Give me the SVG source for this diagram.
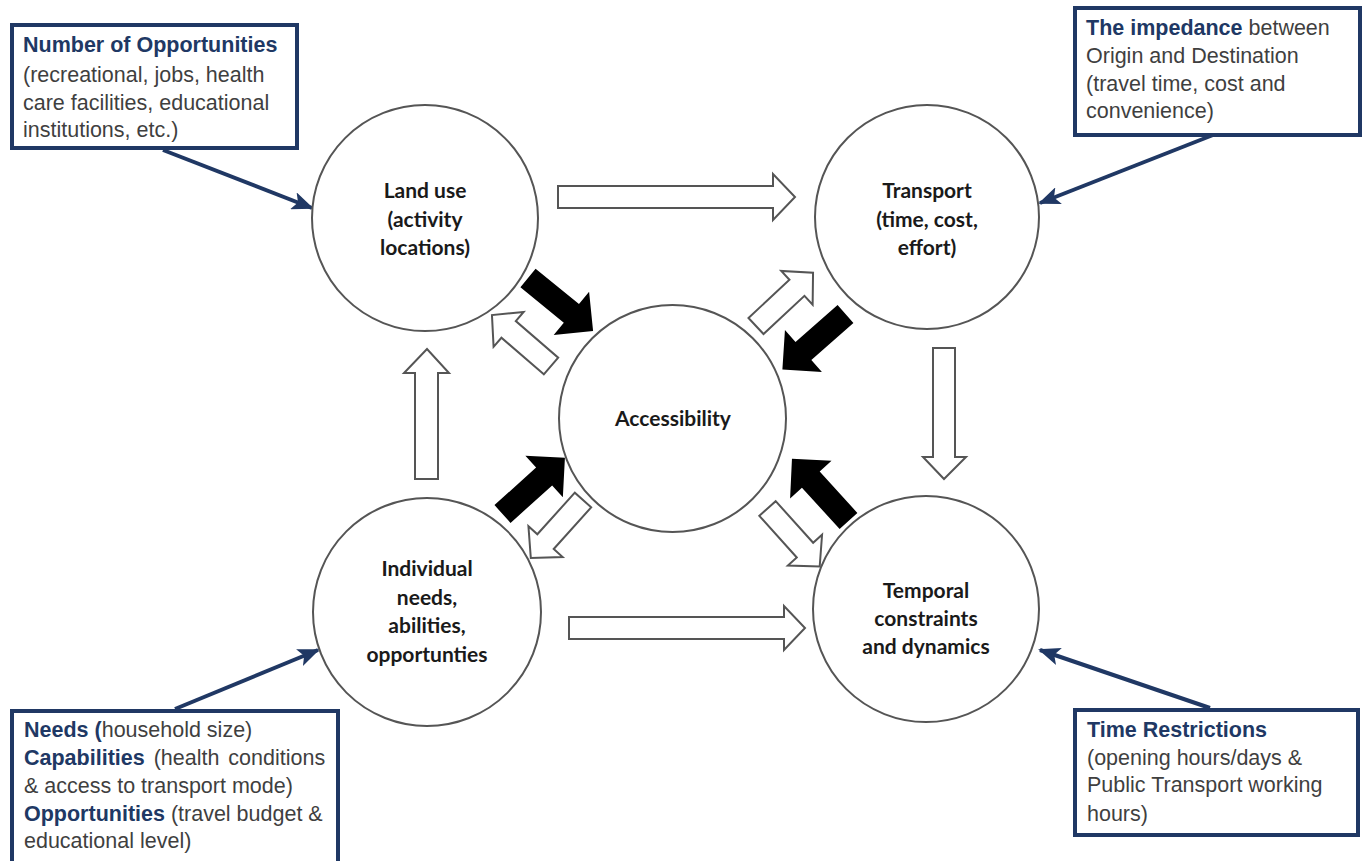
<svg xmlns="http://www.w3.org/2000/svg" width="1368" height="861" viewBox="0 0 1368 861">
  <style>
    .node { fill: #ffffff; stroke: #555555; stroke-width: 2; }
    .ntext { font-family: Lato, "Open Sans", sans-serif; font-weight: 700; font-size: 21px; fill: #1a1a1a; text-anchor: middle; }
    .hollow { fill: #ffffff; stroke: #555555; stroke-width: 2; stroke-linejoin: miter; }
    .solid { fill: #000000; stroke: none; }
    .box { fill: #ffffff; stroke: #203864; stroke-width: 4; }
    .ptr { stroke: #203864; stroke-width: 4; fill: none; }
    .btext { font-family: "Liberation Sans", Arial, sans-serif; font-size: 21.5px; fill: #3f3f3f; }
    .b { font-weight: 700; fill: #203864; }
  </style>
  <defs>
    <!-- diagonal arrows, tail at origin pointing along +x -->
    <polygon id="hollowDiag" points="0,-11 56,-11 56,-23 78,0 56,23 56,11 0,11"/>
    <polygon id="solidDiag" points="0,-12 56,-12 56,-28 84,0 56,28 56,12 0,12"/>
    <marker id="navyHead" markerUnits="userSpaceOnUse" markerWidth="22" markerHeight="18" refX="20" refY="9" orient="auto">
      <polygon points="0,0 22,9 0,18 5,9" fill="#203864"/>
    </marker>
  </defs>

  <rect width="1368" height="861" fill="#ffffff"/>

  <!-- connectors -->
  <g id="connectors">
    <!-- straight hollow arrows between outer nodes -->
    <polygon class="hollow" points="558,186 773,186 773,174 795,197 773,220 773,208 558,208"/>
    <polygon class="hollow" points="569,617 784,617 784,606 805,628 784,650 784,639 569,639"/>
    <polygon class="hollow" points="415,479 415,373 404,373 427,349 449,373 438,373 438,479"/>
    <polygon class="hollow" points="933,348 955,348 955,457 966,457 944,479 923,457 933,457"/>

    <!-- inward solid arrows to Accessibility -->
    <use href="#solidDiag" class="solid" transform="translate(528,278) rotate(39.2)"/>
    <use href="#solidDiag" class="solid" transform="translate(845.5,314) rotate(138.7)"/>
    <use href="#solidDiag" class="solid" transform="translate(502.5,514) rotate(-42)"/>
    <use href="#solidDiag" class="solid" transform="translate(848.5,521) rotate(227.7)"/>

    <!-- outward hollow arrows from Accessibility -->
    <use href="#hollowDiag" class="hollow" transform="translate(551,366) rotate(220.8)"/>
    <use href="#hollowDiag" class="hollow" transform="translate(756,326) rotate(-43)"/>
    <use href="#hollowDiag" class="hollow" transform="translate(583,500) rotate(132)"/>
    <use href="#hollowDiag" class="hollow" transform="translate(767.5,508.5) rotate(48)"/>

    <!-- callout pointers -->
    <line class="ptr" x1="163" y1="150" x2="312" y2="208" marker-end="url(#navyHead)"/>
    <line class="ptr" x1="1213" y1="135" x2="1040" y2="203" marker-end="url(#navyHead)"/>
    <line class="ptr" x1="175" y1="709" x2="318" y2="650" marker-end="url(#navyHead)"/>
    <line class="ptr" x1="1210" y1="708" x2="1040" y2="650" marker-end="url(#navyHead)"/>
  </g>

  <!-- circle nodes -->
  <g id="land-use">
    <circle class="node" cx="425" cy="218" r="113"/>
    <text class="ntext" x="425" y="198">Land use</text>
    <text class="ntext" x="425" y="227">(activity</text>
    <text class="ntext" x="425" y="255">locations)</text>
  </g>
  <g id="transport">
    <circle class="node" cx="927" cy="217" r="112"/>
    <text class="ntext" x="927" y="198">Transport</text>
    <text class="ntext" x="927" y="227">(time, cost,</text>
    <text class="ntext" x="927" y="255">effort)</text>
  </g>
  <g id="accessibility">
    <circle class="node" cx="672.5" cy="418.5" r="113.5"/>
    <text class="ntext" x="673" y="426">Accessibility</text>
  </g>
  <g id="individual">
    <circle class="node" cx="427" cy="612" r="114"/>
    <text class="ntext" x="427" y="576">Individual</text>
    <text class="ntext" x="427" y="605">needs,</text>
    <text class="ntext" x="427" y="633">abilities,</text>
    <text class="ntext" x="427" y="662">opportunties</text>
  </g>
  <g id="temporal">
    <circle class="node" cx="926" cy="609" r="113"/>
    <text class="ntext" x="926" y="598">Temporal</text>
    <text class="ntext" x="926" y="626">constraints</text>
    <text class="ntext" x="926" y="654">and dynamics</text>
  </g>

  <!-- callout boxes -->
  <g id="box-opportunities">
    <rect class="box" x="12" y="25" width="285" height="123"/>
    <text class="btext" x="23" y="52"><tspan class="b">Number of Opportunities</tspan></text>
    <text class="btext" x="23" y="82">(recreational, jobs, health</text>
    <text class="btext" x="23" y="110">care facilities, educational</text>
    <text class="btext" x="23" y="137">institutions, etc.)</text>
  </g>
  <g id="box-impedance">
    <rect class="box" x="1075" y="8" width="285" height="127"/>
    <text class="btext" x="1086" y="35"><tspan class="b">The impedance</tspan> between</text>
    <text class="btext" x="1086" y="63">Origin and Destination</text>
    <text class="btext" x="1086" y="91">(travel time, cost and</text>
    <text class="btext" x="1086" y="118">convenience)</text>
  </g>
  <g id="box-needs">
    <rect class="box" x="12" y="711" width="326" height="170"/>
    <text class="btext" x="24" y="737"><tspan class="b">Needs (</tspan>household size)</text>
    <text class="btext" x="24" y="765" word-spacing="3"><tspan class="b">Capabilities</tspan> (health conditions</text>
    <text class="btext" x="24" y="793">&amp; access to transport mode)</text>
    <text class="btext" x="24" y="821"><tspan class="b">Opportunities</tspan> (travel budget &amp;</text>
    <text class="btext" x="24" y="848">educational level)</text>
  </g>
  <g id="box-time">
    <rect class="box" x="1075" y="710" width="283" height="125"/>
    <text class="btext" x="1087" y="737"><tspan class="b">Time Restrictions</tspan></text>
    <text class="btext" x="1087" y="765">(opening hours/days &amp;</text>
    <text class="btext" x="1087" y="792">Public Transport working</text>
    <text class="btext" x="1087" y="821">hours)</text>
  </g>
</svg>
